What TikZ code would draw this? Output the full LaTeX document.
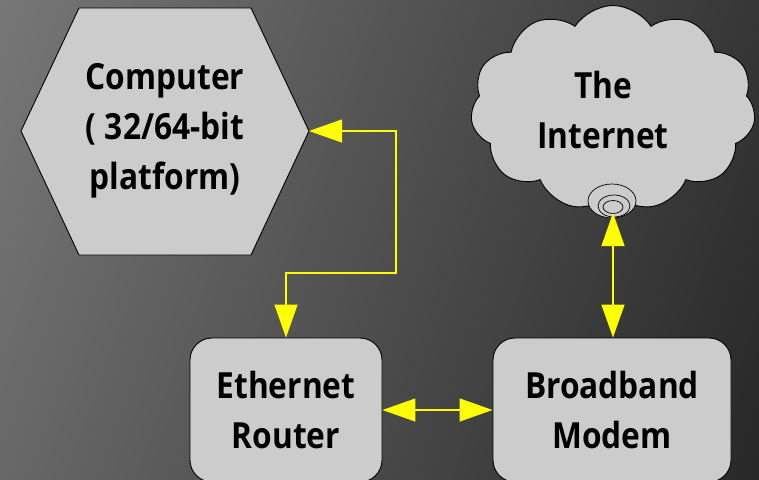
\documentclass[tikz,border=0pt]{standalone}
\usepackage{fontspec}
\setmainfont{Open Sans}[BoldFont={Open Sans Bold}, BoldFeatures={FakeStretch=0.88}]
\usetikzlibrary{arrows.meta,shapes.symbols,calc}
\definecolor{boxfill}{HTML}{CCCCCC}
\definecolor{bglight}{HTML}{808080}
\definecolor{bgdark}{HTML}{1E1E1E}
\definecolor{linkyellow}{HTML}{FFFF00}
\tikzset{
  shapeline/.style={draw=black, line width=0.9pt, fill=boxfill},
  label/.style={font=\fontsize{36}{50}\selectfont\bfseries, align=center, text=black},
  devbox/.style={shapeline, rounded corners=22pt, minimum width=192pt, minimum height=144pt},
  link/.style={draw=linkyellow, line width=1.3pt,
    {Triangle[length=33pt,width=23pt,fill=linkyellow]}-{Triangle[length=33pt,width=23pt,fill=linkyellow]}},
}
\begin{document}
\begin{tikzpicture}[x=1pt, y=-1pt]
  \useasboundingbox (0,0) rectangle (759,479);
  \clip (0,0) rectangle (759,479);
  % backdrop
  \shade[top color=bglight, bottom color=bgdark, shading angle=70] (-200,-200) rectangle (959,679);

  % computer hexagon
  \draw[shapeline] (79,8) -- (251,8) -- (309,131) -- (251,255) -- (79,255) -- (21,131) -- cycle;
  \coordinate (compR) at (309,131);
  \node[label] (comp) at (165,131) {Computer\\( 32/64-bit\\platform)};

  % internet cloud
  \node[shapeline, cloud, cloud puffs=11, cloud puff arc=115, aspect=1.4,
        minimum width=285pt, minimum height=205pt] (cloud) at (613,108) {};
  \node[label] (net) at (603,110) {The\\Internet};
  \draw[shapeline, line width=0.7pt] (612,201) ellipse [x radius=24pt, y radius=17pt];
  \draw[shapeline, line width=0.7pt] (614,206) ellipse [x radius=16pt, y radius=11pt];
  \draw[shapeline, line width=0.7pt] (613,207) ellipse [x radius=10pt, y radius=6.5pt];
  \coordinate (port) at (613,213);

  % devices
  \node[devbox] (router) at (286,410) {};
  \node[label] (routertxt) at (286,410) {Ethernet\\Router};
  \node[devbox, minimum width=238pt] (modem) at (612,410) {};
  \node[label] (modemtxt) at (612,410) {Broadband\\Modem};

  % links
  \coordinate (k1) at (396,131);
  \coordinate (k2) at (396,273);
  \draw[link] (compR) -- (k1) -- (k2) -| (router.north);
  \draw[link] (router.east) -- (modem.west);
  \draw[link] (port) -- (port |- modem.north);
\end{tikzpicture}
\end{document}
